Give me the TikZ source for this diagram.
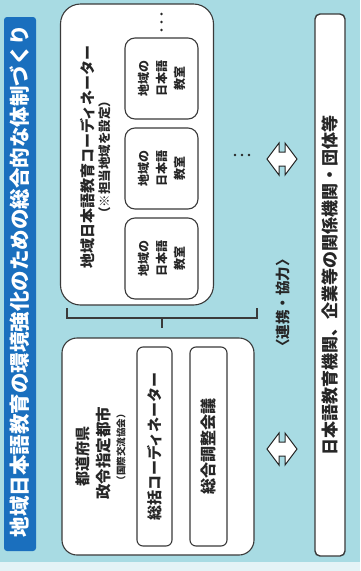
\documentclass[tikz,border=0pt]{standalone}
\usepackage{fontspec}
\newfontfamily\jp{Noto Sans CJK JP}
\definecolor{bgblue}{HTML}{A8DBE3}
\definecolor{bgpale}{HTML}{E4F3F6}
\definecolor{titleblue}{HTML}{1A6FBE}
\definecolor{edge}{HTML}{3A3A3A}
\definecolor{ink}{HTML}{262626}
\tikzset{
  box/.style={draw=edge, fill=white, line width=1.1pt, inner sep=0pt},
  vtext/.style={rotate=90, text=ink, inner sep=0pt, align=center},
  dotmark/.style={fill=ink, draw=none},
  dblarrow/.style={draw=ink, fill=white, line width=1pt, line join=miter}
}
\begin{document}
\begin{tikzpicture}[x=1pt, y=-1pt, font=\jp\bfseries]
\useasboundingbox (0,0) rectangle (360,571);
\fill[bgblue] (0,0) rectangle (360,562);
\fill[bgpale] (0,562) rectangle (360,571);

% title bar
\node[fill=titleblue, rounded corners=3pt, minimum width=32pt, minimum height=534pt, inner sep=0pt] (title) at (20,284) {};
\node[rotate=90, text=white, font=\jp\bfseries\fontsize{20.5}{24}\selectfont] (titletext) at (20,281) {地域日本語教育の環境強化のための総合的な体制づくり};

% upper group
\node[box, rounded corners=20pt, minimum width=153pt, minimum height=301pt] (coord) at (137,154.5) {};
\node[vtext, font=\jp\bfseries\fontsize{15}{18}\selectfont] (coordtext) at (88,157) {地域日本語教育コーディネーター};
\node[vtext, font=\jp\bfseries\fontsize{12.5}{14}\selectfont] (coordsub) at (105,157) {（※担当地域を設定）};

\foreach \i/\yy in {1/78.5, 2/168.5, 3/258.5} {
  \node[box, rounded corners=10pt, minimum width=73pt, minimum height=81pt] (class\i) at (161.5,\yy) {};
  \node[vtext, font=\jp\bfseries\fontsize{12}{18}\selectfont] (classtext\i) at (class\i.center) {地域の\\日本語\\教室};
}
\foreach \yy [count=\k] in {14,22,30} {
  \fill[dotmark] (161.5,\yy) circle (1.4pt);
}
\foreach \xx [count=\k] in {235,242,249} {
  \fill[dotmark] (\xx,155) circle (1.4pt);
}

% bracket
\coordinate (bl) at (67,308);
\coordinate (br) at (257,308);
\coordinate (bm) at (162,318);
\draw[edge, line width=1.1pt] (bl) -- (67,318) -- (257,318) -- (br);
\draw[edge, line width=2.2pt] (bm) -- (162,328);

% lower group
\node[box, rounded corners=15pt, minimum width=192pt, minimum height=217pt] (pref) at (158,446.5) {};
\node[vtext, font=\jp\bfseries\fontsize{15}{18}\selectfont] (preftext) at (83,456) {都道府県};
\node[vtext, font=\jp\bfseries\fontsize{15.5}{18}\selectfont] (citytext) at (104,453) {政令指定都市};
\node[vtext, font=\jp\bfseries\fontsize{9.5}{12}\selectfont] (assoc) at (121,447) {（国際交流協会）};
\node[box, rounded corners=6pt, minimum width=35pt, minimum height=199pt] (chief) at (154.5,446.5) {};
\node[vtext, font=\jp\bfseries\fontsize{15}{18}\selectfont] (chieftext) at (chief.center) {総括コーディネーター};
\node[box, rounded corners=6pt, minimum width=37pt, minimum height=199pt] (council) at (208.5,446.5) {};
\node[vtext, font=\jp\bfseries\fontsize{16}{18}\selectfont] (counciltext) at (council.center) {総合調整会議};

% cooperation
\node[vtext, font=\jp\bfseries\fontsize{14.5}{16}\selectfont] (coop) at (283,303) {〈連携・協力〉};
\foreach \cy [count=\k] in {159,449} {
  \coordinate (arr\k) at (282,\cy);
  \draw[dblarrow, shift={(arr\k)}] (-15,0) -- (-3,-16) -- (-3,-7) -- (3,-7) -- (3,-16) -- (15,0) -- (3,16) -- (3,7) -- (-3,7) -- (-3,16) -- cycle;
}

% right box
\node[box, rounded corners=5pt, line width=1.4pt, minimum width=30pt, minimum height=542pt] (partners) at (330,285) {};
\node[vtext, font=\jp\bfseries\fontsize{17}{20}\selectfont] (partnerstext) at (partners.center) {日本語教育機関、企業等の関係機関・団体等};
\end{tikzpicture}
\end{document}
